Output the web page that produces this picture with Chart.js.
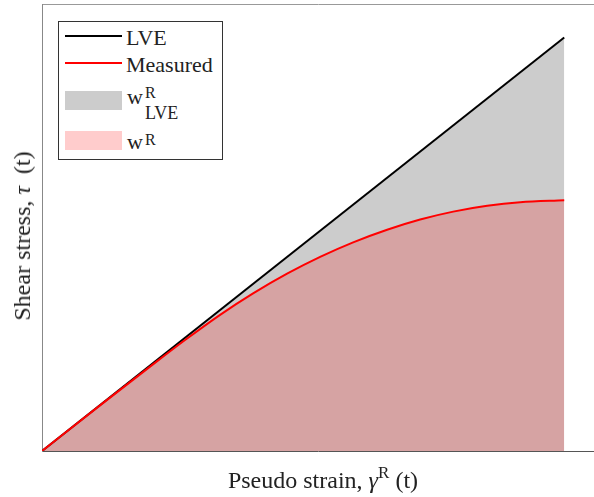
<!DOCTYPE html>
<html>
<head>
<meta charset="utf-8">
<script src="https://cdn.jsdelivr.net/npm/chart.js@4.4.1/dist/chart.umd.min.js"></script>
<style>
  body { margin: 0; background: #fff; }
  #wrap { position: relative; width: 594px; height: 497px; overflow: hidden; font-family: "Liberation Serif", "Times New Roman", serif; color: #222; }
  #chart { position: absolute; left: 0; top: 0; }
  .txt { position: absolute; white-space: nowrap; line-height: 1; }
  #yTitle { left: 22px; top: 236px; font-size: 24px; transform: translate(-50%, -50%) rotate(-90deg); }
  #xTitle { left: 323px; top: 480px; font-size: 24px; transform: translate(-50%, -50%); }
  #xTitle sup { font-size: 17px; vertical-align: 10px; line-height: 0; }
  #legend { position: absolute; left: 58px; top: 21px; width: 163px; height: 137px; border: 1px solid #333; background: #fff; }
  .lline { position: absolute; left: 6px; width: 57px; height: 2px; }
  .swatch { position: absolute; left: 6px; width: 57px; height: 19px; }
  .ltext { font-size: 22px; }
</style>
</head>
<body>
<div id="wrap">
  <canvas id="chart" width="594" height="497"></canvas>
  <div class="txt" id="yTitle">Shear stress, <i>τ</i>&nbsp;&nbsp;(t)</div>
  <div class="txt" id="xTitle">Pseudo strain, <i>γ</i><sup>R</sup> (t)</div>
  <div id="legend">
    <div class="lline" style="top:13px;background:#000"></div>
    <span class="txt ltext" style="left:67px;top:5px">LVE</span>
    <div class="lline" style="top:40px;background:#f00"></div>
    <span class="txt ltext" style="left:67px;top:32px">Measured</span>
    <div class="swatch" style="top:69px;background:#ccc"></div>
    <span class="txt ltext" style="left:68px;top:64px">w</span>
    <span class="txt" style="left:86px;top:63px;font-size:16px">R</span>
    <span class="txt" style="left:86px;top:82px;font-size:18px">LVE</span>
    <div class="swatch" style="top:109px;background:#fcc"></div>
    <span class="txt ltext" style="left:68px;top:109px">w</span>
    <span class="txt" style="left:86px;top:110px;font-size:16px">R</span>
  </div>
</div>
<script>
const strainLve = [0, 100];
const stressLve = [0, 92.5];

const strainMeasured = [0, 11.11, 20.69, 27.39, 34.10, 40.42, 46.93, 53.26, 59.58, 66.09, 72.41, 78.74, 85.25, 91.57, 100];
const stressMeasured = [0, 10.20, 18.87, 24.82, 30.46, 35.26, 39.67, 43.43, 46.68, 49.50, 51.78, 53.55, 54.85, 55.65, 56.10];

const X_MAX = 105.7;
const Y_MAX = 100;

function toPoints(xs, ys) {
  return xs.map((x, i) => ({ x, y: ys[i] }));
}

const ctx = document.getElementById('chart').getContext('2d');
new Chart(ctx, {
  type: 'line',
  data: {
    datasets: [
      {
        label: 'Measured',
        data: toPoints(strainMeasured, stressMeasured),
        borderColor: '#ff0000',
        borderWidth: 2,
        backgroundColor: 'rgba(255, 0, 0, 0.2)',
        fill: 'origin',
        cubicInterpolationMode: 'monotone',
        pointRadius: 0,
      },
      {
        label: 'LVE',
        data: toPoints(strainLve, stressLve),
        borderColor: '#000000',
        borderWidth: 2,
        backgroundColor: '#cccccc',
        fill: 'origin',
        pointRadius: 0,
      },
    ],
  },
  options: {
    responsive: false,
    animation: false,
    layout: { padding: 0 },
    plugins: { legend: { display: false }, tooltip: { enabled: false } },
    scales: {
      x: {
        type: 'linear',
        min: 0,
        max: X_MAX,
        ticks: { display: false },
        grid: { display: false },
        border: { color: '#555', width: 1 },
        afterFit: (s) => { s.height = 46; },
      },
      xTop: {
        type: 'linear',
        position: 'top',
        min: 0,
        max: X_MAX,
        ticks: { display: false },
        grid: { display: false },
        border: { color: '#999', width: 1 },
        afterFit: (s) => { s.height = 4; },
      },
      y: {
        min: 0,
        max: Y_MAX,
        ticks: { display: false },
        grid: { display: false },
        border: { color: '#888', width: 1 },
        afterFit: (s) => { s.width = 42; },
      },
    },
  },
});
</script>
</body>
</html>
